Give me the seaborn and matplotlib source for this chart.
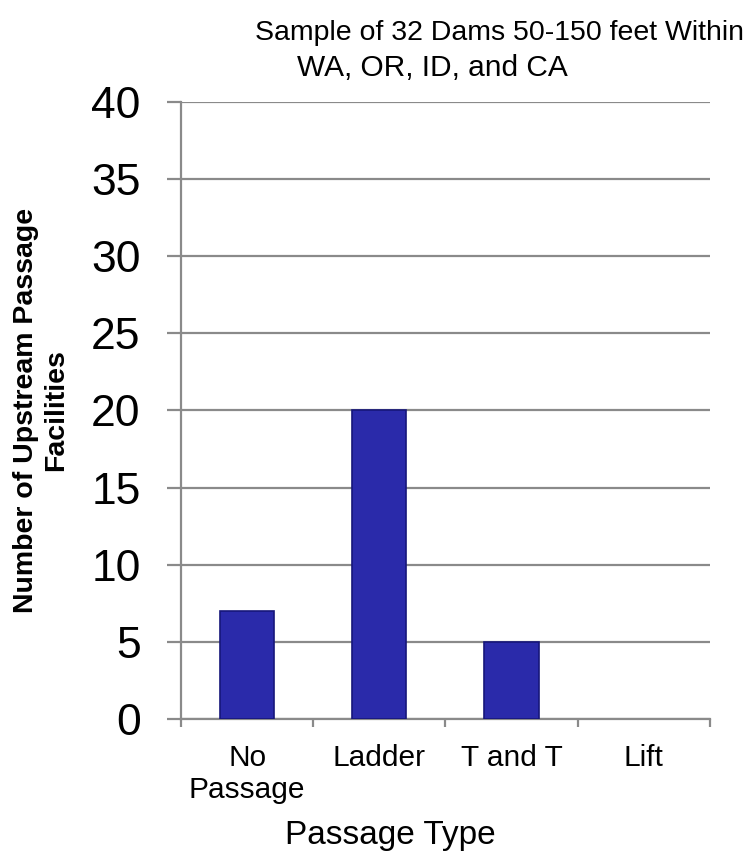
import matplotlib
matplotlib.use("Agg")
import matplotlib.pyplot as plt
import seaborn as sns
import pandas as pd
from matplotlib.ticker import FixedLocator

# data
passage_types = ["No\nPassage", "Ladder", "T and T", "Lift"]
facility_counts = [7, 20, 5, 0]
y_ticks = [0, 5, 10, 15, 20, 25, 30, 35, 40]

title_lines = ["Sample of 32 Dams 50-150 feet Within", "WA, OR, ID, and CA"]

sns.set_style("white")
plt.rcParams["font.family"] = ["Liberation Sans", "DejaVu Sans"]
plt.rcParams["text.color"] = "black"
plt.rcParams["axes.labelcolor"] = "black"
plt.rcParams["xtick.labelcolor"] = "black"
plt.rcParams["ytick.labelcolor"] = "black"

grid_col = "#8a8a8a"
bar_col = "#2a2aaa"

df = pd.DataFrame({"type": passage_types, "count": facility_counts})

fig = plt.figure(figsize=(7.48, 8.67), dpi=100)
ax = fig.add_axes([0.242, 0.1707, 0.707, 0.7117])

sns.barplot(data=df, x="type", y="count", color=bar_col, saturation=1,
            width=0.41, edgecolor="#16167a", linewidth=1.2, ax=ax, zorder=3)

# an empty category should leave no mark at all
for p in ax.patches:
    if p.get_height() == 0:
        p.set_visible(False)

ax.set_ylim(0, 40)
ax.set_xlim(-0.5, len(passage_types) - 0.5)
ax.set_yticks(y_ticks)
ax.yaxis.grid(True, color=grid_col, linewidth=1.6, zorder=0)
ax.set_axisbelow(True)

for side in ["top", "right"]:
    ax.spines[side].set_visible(False)
for side in ["left", "bottom"]:
    ax.spines[side].set_color(grid_col)
    ax.spines[side].set_linewidth(1.6)

# y ticks stick out to the left, x ticks sit on the category boundaries
ax.tick_params(axis="y", direction="out", length=10, width=1.6, color=grid_col,
               labelsize=32, pad=19, left=True)
ax.tick_params(axis="x", which="major", length=0, labelsize=21.5, pad=18)
ax.xaxis.set_minor_locator(FixedLocator([i - 0.5 for i in range(len(passage_types) + 1)]))
ax.tick_params(axis="x", which="minor", direction="out", length=6, width=1.6,
               color=grid_col, bottom=True)

ax.set_xlabel("Passage Type", fontsize=24)
ax.xaxis.set_label_coords(0.395, -0.163)
ax.set_ylabel("Number of Upstream Passage\nFacilities", fontsize=20.5,
              fontweight="bold", labelpad=16)

fig.text(0.668, 0.962, title_lines[0], fontsize=20.5, ha="center", va="center")
fig.text(0.578, 0.922, title_lines[1], fontsize=21.5, ha="center", va="center")

fig.savefig("out.png", dpi=100)
